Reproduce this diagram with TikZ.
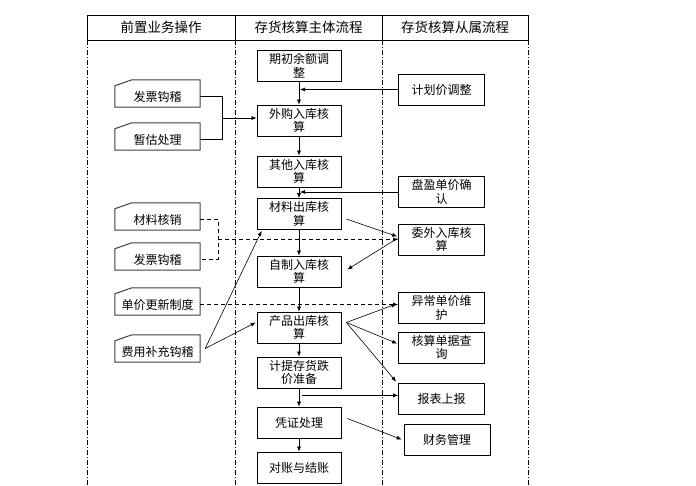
\documentclass[tikz,border=0pt]{standalone}
\usepackage{fontspec}
\setmainfont{Noto Sans CJK SC}
\usetikzlibrary{arrows.meta,calc}
\newcommand\drawleft[1]{\draw[leftshape] (#1.north west) -- ($(#1.north west)+(17,-6)$) -- ($(#1.north east)+(0,-6)$) -- (#1.south east) -- (#1.south west) -- cycle;}
\begin{document}
\begin{tikzpicture}[x=1pt,y=-1pt,
 every node/.style={font=\fontsize{12}{13.5}\selectfont},
 hdr/.style={draw, line width=0.7pt, minimum height=25pt, inner sep=0pt, font=\fontsize{13.5}{15}\selectfont},
 mainbox/.style={draw, line width=0.7pt, minimum width=84pt, minimum height=31pt, inner sep=1pt, align=center},
 sidebox/.style={draw, line width=0.7pt, minimum width=86pt, minimum height=31pt, inner sep=1pt, align=center},
 leftbox/.style={minimum width=85pt, minimum height=21pt, inner sep=0pt},
 leftshape/.style={draw=black!75, line width=1pt},
 conn/.style={line width=0.6pt, -{Latex[length=5pt,width=4pt]}},
 dconn/.style={conn, dash pattern=on 4pt off 3pt},
 plainline/.style={line width=0.6pt},
 dline/.style={line width=0.6pt, dash pattern=on 4pt off 3pt},
 colline/.style={line width=0.6pt, dash pattern=on 5pt off 2pt on 1pt off 2pt}
]
\fill[white] (0,0) rectangle (696,486);
\useasboundingbox (0,0) rectangle (696,486);

% header
\node[hdr, minimum width=148pt] (H1) at (161,27.5) {前置业务操作};
\node[hdr, minimum width=147pt] (H2) at (308.5,27.5) {存货核算主体流程};
\node[hdr, minimum width=146pt] (H3) at (455,27.5) {存货核算从属流程};
\draw[colline] (87,40) -- (87,486);
\draw[colline] (235,40) -- (235,486);
\draw[colline] (382,40) -- (382,486);
\draw[colline] (528,40) -- (528,486);

% main column
\node[mainbox] (B1) at (299,65.5) {期初余额调\\整};
\node[mainbox] (B2) at (299,120.5) {外购入库核\\算};
\node[mainbox] (B3) at (299,171.5) {其他入库核\\算};
\node[mainbox] (B4) at (299,214) {材料出库核\\算};
\node[mainbox] (B5) at (299,271.5) {自制入库核\\算};
\node[mainbox] (B6) at (299,327.5) {产品出库核\\算};
\node[mainbox] (B7) at (299,372.5) {计提存货跌\\价准备};
\node[mainbox] (B8) at (299,422.5) {凭证处理};
\node[mainbox] (B9) at (299,467.5) {对账与结账};

% right column
\node[sidebox] (R1) at (441.5,89.5) {计划价调整};
\node[sidebox] (R2) at (441.5,192) {盘盈单价确\\认};
\node[sidebox] (R3) at (441.5,239.5) {委外入库核\\算};
\node[sidebox] (R4) at (441.5,308) {异常单价维\\护};
\node[sidebox] (R5) at (441.5,347.5) {核算单据查\\询};
\node[sidebox] (R6) at (441.5,398.5) {报表上报};
\node[sidebox] (R7) at (447,439.5) {财务管理};

% left column
\node[leftbox] (L1) at (157.5,96.5) {发票钩稽};
\node[leftbox] (L2) at (157.5,139.5) {暂估处理};
\node[leftbox] (L3) at (157.5,219.5) {材料核销};
\node[leftbox] (L4) at (157.5,259.5) {发票钩稽};
\node[leftbox] (L5) at (157.5,304.5) {单价更新制度};
\node[leftbox] (L6) at (157.5,351.5) {费用补充钩稽};
\drawleft{L1}
\drawleft{L2}
\drawleft{L3}
\drawleft{L4}
\drawleft{L5}
\drawleft{L6}

% main flow
\draw[conn] (B1) -- (B2);
\draw[conn] (B2) -- (B3);
\draw[conn] (B3) -- (B4);
\draw[conn] (B4) -- (B5);
\draw[conn] (B5) -- (B6);
\draw[conn] (B6) -- (B7);
\draw[conn] (B7) -- (B8);
\draw[conn] (B8) -- (B9);

% left brackets
\draw[plainline] (L1.east) -- ++(22,0) coordinate (b1t) |- (L2.east);
\coordinate (m1) at ($(b1t)!0.5!(b1t |- L2.east)$);
\draw[conn] (m1) -- (m1 -| B2.west);
\draw[dline] (L3.east) -- ++(18,0) coordinate (b2t) |- (L4.east);
\coordinate (m2) at ($(b2t)!0.5!(b2t |- L4.east)$);
\draw[dconn] (m2) -- (R3.west);
\draw[dconn] (L5.east) -- (L5.east -| R4.west);
\draw[conn] ($(L6.east)+(5,-3)$) -- ($(B4.south west)+(5,1)$);
\draw[conn] ($(L6.east)+(5,-3)$) -- ($(B6.west)+(-1,-5)$);

% right inputs
\draw[conn] (R1.west) -- ($(R1.west -| B1.south)+(1,0)$);
\draw[conn] (R2.west) -- ($(R2.west -| B3.south)+(1,0)$);
\draw[conn] ($(B4.east)+(5,5)$) -- ($(R3.west)+(-1,-3)$);
\draw[conn] ($(R3.west)+(-1,-1)$) -- ($(B5.east)+(6,-2)$);
\draw[conn] ($(B6.east)+(5,-5)$) -- ($(R4.west)+(-2,-4)$);
\draw[conn] ($(B6.east)+(5,-5)$) -- ($(R5.west)+(-1,-4)$);
\draw[conn] ($(B6.east)+(5,-5)$) -- ($(R6.north west)+(-2,-1)$);
\draw[conn] ($(B7.south)+(3,7)$) coordinate (k) -- (k -| R6.west);
\draw[conn] ($(B8.east)+(6,-4)$) -- ($(R7.west)+(-2,0)$);
\end{tikzpicture}
\end{document}
